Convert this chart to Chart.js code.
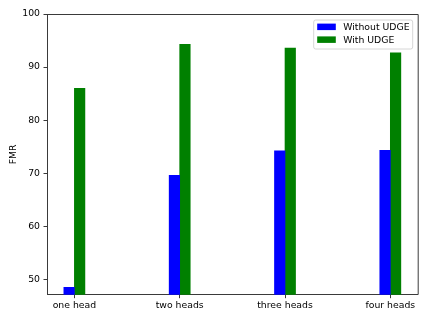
<!DOCTYPE html>
<html>
<head>
<meta charset="utf-8">
<script src="https://cdn.jsdelivr.net/npm/chart.js"></script>
<style>
  html, body { margin: 0; padding: 0; background: #fff; }
  #wrap { width: 428px; height: 321px; }
</style>
</head>
<body>
<div id="wrap"><canvas id="chart" width="428" height="321"></canvas></div>
<script>
// data
const categories = ["one head", "two heads", "three heads", "four heads"];
const withoutUDGE = [48.5, 69.6, 74.2, 74.3];
const withUDGE = [86.0, 94.3, 93.6, 92.7];
const yTicks = [50, 60, 70, 80, 90, 100];

const BAR_W = 0.1; // bar width in category units (like matplotlib width=0.1)
const AXIS_COLOR = "#3a3a3a";
const FONT = "'DejaVu Sans', sans-serif";

// blue sits left of the tick, green right of it
function toPoints(values, shift) {
  return values.map((v, i) => ({ x: i + shift, y: v }));
}

// top + right spines, matplotlib style
const framePlugin = {
  id: "frame",
  afterDraw(chart) {
    const { ctx, chartArea: a } = chart;
    ctx.save();
    ctx.strokeStyle = AXIS_COLOR;
    ctx.lineWidth = 1;
    ctx.beginPath();
    ctx.moveTo(a.left, a.top + 0.5);
    ctx.lineTo(a.right + 0.5, a.top + 0.5);
    ctx.lineTo(a.right + 0.5, a.bottom);
    ctx.stroke();
    ctx.restore();
  }
};

// legend box in upper right corner of the plot
const legendPlugin = {
  id: "boxLegend",
  afterDraw(chart) {
    const { ctx, chartArea: a } = chart;
    const sets = chart.data.datasets;
    const fs = 9.3;
    const right = a.right - 5.5;
    const top = a.top + 5.5;
    const w = 99, h = 29;
    const left = right - w;

    ctx.save();
    ctx.beginPath();
    ctx.roundRect(left + 0.5, top + 0.5, w, h, 2);
    ctx.fillStyle = "rgba(255,255,255,0.8)";
    ctx.fill();
    ctx.strokeStyle = "#cccccc";
    ctx.lineWidth = 0.8;
    ctx.stroke();

    ctx.font = fs + "px " + FONT;
    ctx.textBaseline = "middle";
    ctx.textAlign = "left";
    sets.forEach((ds, i) => {
      const cy = top + 7.3 + i * 12.8;
      ctx.fillStyle = ds.backgroundColor;
      ctx.fillRect(left + 4, cy - 3.2, 18.6, 6.5);
      ctx.fillStyle = "#000";
      ctx.fillText(ds.label, left + 30, cy + 0.5);
    });
    ctx.restore();
  }
};

new Chart(document.getElementById("chart"), {
  type: "bar",
  data: {
    datasets: [
      { label: "Without UDGE", data: toPoints(withoutUDGE, -BAR_W / 2), backgroundColor: "#0000ff" },
      { label: "With UDGE", data: toPoints(withUDGE, BAR_W / 2), backgroundColor: "#008000" }
    ]
  },
  options: {
    responsive: false,
    devicePixelRatio: 1,
    animation: false,
    grouped: false,
    categoryPercentage: 1,
    barPercentage: 1,
    layout: { padding: { top: 14, right: 10.3, left: 0, bottom: 0 } },
    plugins: {
      legend: { display: false },
      tooltip: { enabled: false }
    },
    scales: {
      x: {
        type: "linear",
        min: -0.26,
        max: 3.26,
        offset: false,
        afterBuildTicks: axis => { axis.ticks = categories.map((c, i) => ({ value: i })); },
        afterFit: axis => { axis.height = 26.3; },
        grid: { offset: false, drawOnChartArea: false, drawTicks: true, tickLength: 3.5, color: AXIS_COLOR, lineWidth: 1 },
        border: { display: true, color: AXIS_COLOR, width: 1 },
        ticks: {
          autoSkip: false,
          maxRotation: 0,
          padding: 2,
          color: "#000",
          font: { family: FONT, size: 9.3 },
          callback: v => categories[v]
        }
      },
      y: {
        min: 47.1,
        max: 100,
        beginAtZero: false,
        afterBuildTicks: axis => { axis.ticks = yTicks.map(v => ({ value: v })); },
        afterFit: axis => { axis.width = 47; },
        grid: { drawOnChartArea: false, drawTicks: true, tickLength: 3.5, color: AXIS_COLOR, lineWidth: 1 },
        border: { display: true, color: AXIS_COLOR, width: 1 },
        title: {
          display: true,
          text: "FMR",
          color: "#000",
          font: { family: FONT, size: 9.3 },
          padding: { top: 8, bottom: 0 }
        },
        ticks: {
          padding: 3.5,
          color: "#000",
          font: { family: FONT, size: 9.3 }
        }
      }
    }
  },
  plugins: [framePlugin, legendPlugin]
});
</script>
</body>
</html>
